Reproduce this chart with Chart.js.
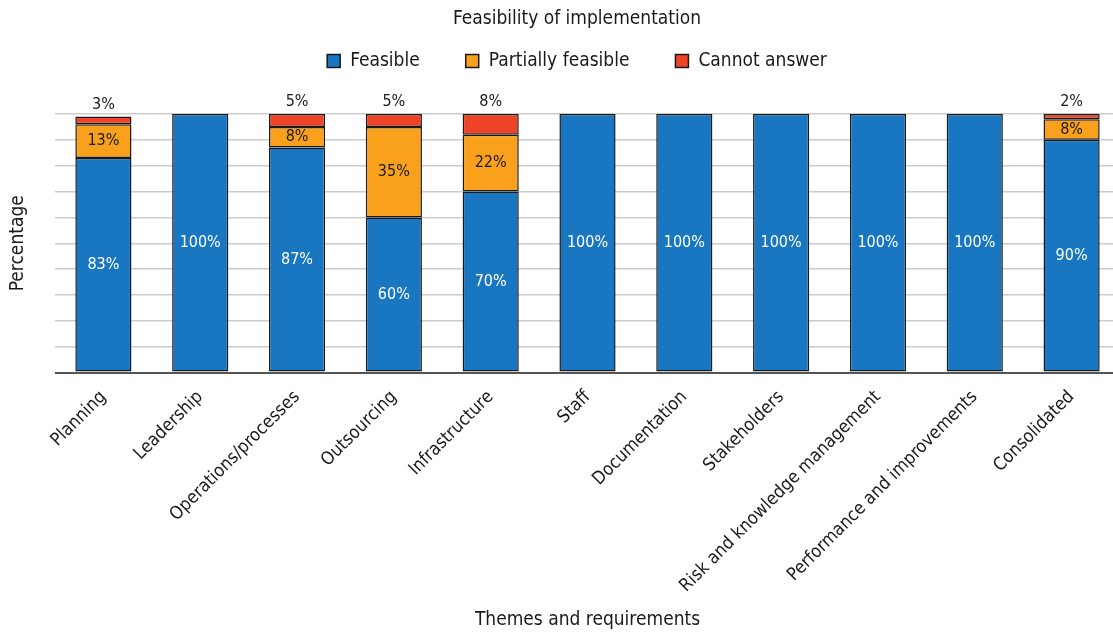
<!DOCTYPE html>
<html>
<head>
<meta charset="utf-8">
<script src="https://cdn.jsdelivr.net/npm/chart.js@4.4.1/dist/chart.umd.min.js"></script>
<style>
  html, body { margin: 0; padding: 0; background: #ffffff; overflow: hidden; }
  #wrap { width: 1120px; height: 633px; position: relative; }
</style>
</head>
<body>
<div id="wrap"><canvas id="chart"></canvas></div>
<script>
// Themes on the x axis
const categories = [
  'Planning', 'Leadership', 'Operations/processes', 'Outsourcing', 'Infrastructure',
  'Staff', 'Documentation', 'Stakeholders', 'Risk and knowledge management',
  'Performance and improvements', 'Consolidated'
];
// Share of answers per theme (%)
const feasible          = [83, 100, 87, 60, 70, 100, 100, 100, 100, 100, 90];
const partiallyFeasible = [13,   0,  8, 35, 22,   0,   0,   0,   0,   0,  8];
const cannotAnswer      = [ 3,   0,  5,  5,  8,   0,   0,   0,   0,   0,  2];
const seriesNames = ['Feasible', 'Partially feasible', 'Cannot answer'];

const FONT = '"DejaVu Sans Condensed", "DejaVu Sans", sans-serif';
const TEXT = '#1a1a1a';
const colors = ['#1976c0', '#f9a11c', '#ee4326'];
const seriesData = [feasible, partiallyFeasible, cannotAnswer];

// Writes each segment's percentage: inside the two lower segments, above the top one
const segmentLabels = {
  id: 'segmentLabels',
  afterDatasetsDraw(chart) {
    const ctx = chart.ctx;
    ctx.save();
    ctx.font = '16px ' + FONT;
    ctx.textAlign = 'center';
    ctx.textBaseline = 'middle';
    chart.data.datasets.forEach((ds, di) => {
      const meta = chart.getDatasetMeta(di);
      meta.data.forEach((bar, i) => {
        const v = ds.data[i];
        if (!v) return;
        const { x, y, base } = bar.getProps(['x', 'y', 'base'], true);
        let ty = (y + base) / 2;
        ctx.fillStyle = di === 0 ? '#ffffff' : TEXT;
        if (di === 2) ty = y - 12;
        ctx.fillText(v + '%', x, ty);
      });
    });
    ctx.restore();
  }
};

// Heading, legend and vertical axis caption
const frame = {
  id: 'frame',
  afterDraw(chart) {
    const ctx = chart.ctx;
    const a = chart.chartArea;
    const cx = 577;
    ctx.save();
    ctx.fillStyle = TEXT;
    ctx.textBaseline = 'middle';

    // heading
    ctx.font = '19px ' + FONT;
    ctx.textAlign = 'center';
    ctx.fillText('Feasibility of implementation', cx, 19);

    // legend row
    const box = 13, gap = 10, spacing = 46;
    const widths = chart.data.datasets.map(ds => box + gap + ctx.measureText(ds.label).width);
    const total = widths.reduce((s, w) => s + w, 0) + spacing * (widths.length - 1);
    let x = cx - total / 2;
    const ly = 61;
    ctx.textAlign = 'left';
    chart.data.datasets.forEach((ds, i) => {
      ctx.fillStyle = ds.backgroundColor;
      ctx.fillRect(x, ly - box / 2, box, box);
      ctx.strokeStyle = TEXT;
      ctx.lineWidth = 1.5;
      ctx.strokeRect(x, ly - box / 2, box, box);
      ctx.fillStyle = TEXT;
      ctx.fillText(ds.label, x + box + gap, ly);
      x += widths[i] + spacing;
    });

    // vertical axis caption
    ctx.translate(18, (a.top + a.bottom) / 2);
    ctx.rotate(-Math.PI / 2);
    ctx.textAlign = 'center';
    ctx.fillText('Percentage', 0, 0);
    ctx.restore();
  }
};

new Chart(document.getElementById('chart'), {
  type: 'bar',
  data: {
    labels: categories,
    datasets: seriesNames.map((name, k) => ({
      label: name,
      data: seriesData[k],
      backgroundColor: colors[k],
      borderColor: '#1a1a1a',
      borderWidth: 1.5,
      borderSkipped: false,
      categoryPercentage: 1.0,
      barPercentage: 0.58
    }))
  },
  options: {
    responsive: true,
    maintainAspectRatio: false,
    animation: false,
    layout: { padding: { left: 55, right: 0, top: 114, bottom: 2 } },
    plugins: {
      title: { display: false },
      legend: { display: false },
      tooltip: { enabled: false }
    },
    scales: {
      x: {
        stacked: true,
        grid: { display: false },
        border: { display: false },
        ticks: {
          color: TEXT,
          font: { family: FONT, size: 18 },
          minRotation: 45,
          maxRotation: 45,
          autoSkip: false,
          padding: 6
        },
        title: {
          display: true,
          text: 'Themes and requirements',
          color: TEXT,
          font: { family: FONT, size: 19 },
          padding: { top: 6, bottom: 0 }
        }
      },
      y: {
        stacked: true,
        min: 0,
        max: 100,
        ticks: { display: false, stepSize: 10 },
        border: { display: false },
        grid: {
          color: (c) => (c.tick && c.tick.value === 0 ? '#555555' : '#cccccc'),
          lineWidth: (c) => (c.tick && c.tick.value === 0 ? 2 : 1.5),
          drawTicks: false
        }
      }
    }
  },
  plugins: [segmentLabels, frame]
});
</script>
</body>
</html>
